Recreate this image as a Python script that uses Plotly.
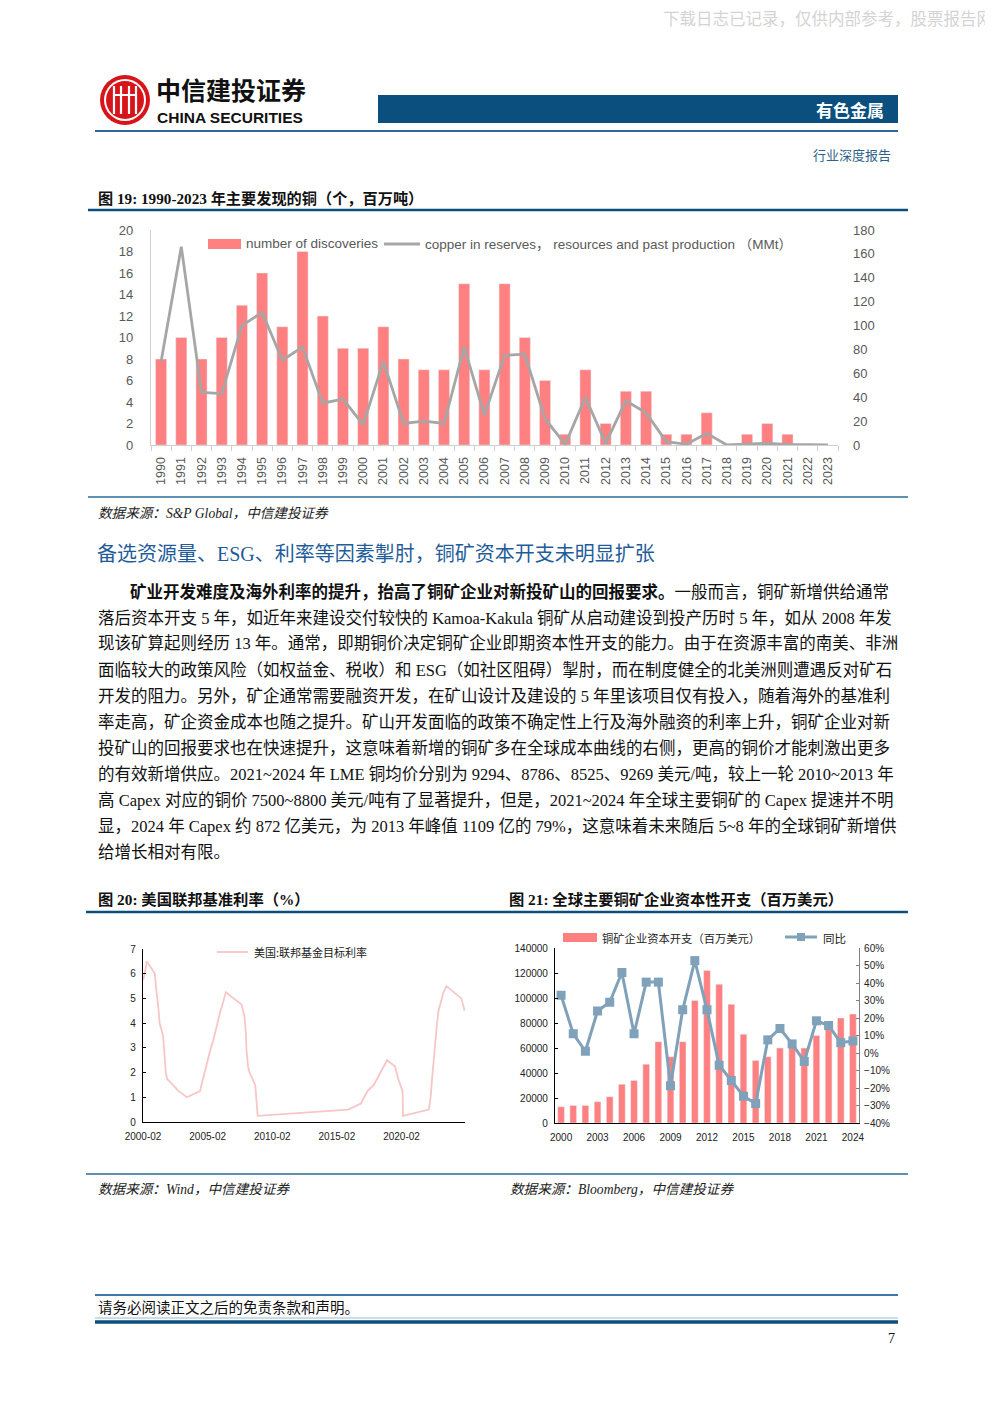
import plotly.graph_objects as go

W, H = 993, 1404
OFF = 8  # the page body adds an 8px margin; compensate so the figure lands at reference pixels
def px(x): return (x - OFF) / W
def py(y): return 1 - (y - OFF) / H

# ---------------- data ----------------
# Fig 19
years19 = [str(y) for y in range(1990, 2024)]
discoveries = [8, 10, 8, 10, 13, 16, 11, 18, 12, 9,
               9, 11, 8, 7, 7, 15, 7, 15, 10, 6,
               1, 7, 2, 5, 5, 1, 1, 3, 0, 1,
               2, 1, 0, 0]
copper_mmt = [70, 166, 44, 43, 100, 111, 71, 82, 35, 38.5,
              17, 70, 18, 20, 18, 82, 25, 75, 76, 22,
              0.5, 40, 1.4, 37, 27, 2.8, 0.6, 9.8, 0, 0.5,
              1.4, 0.5, 0, 0]

# Fig 20 (Fed target rate, change points)
fed_dates = ["2000-02-02", "2000-03-21", "2000-05-16", "2001-01-03", "2001-01-31", "2001-03-20",
             "2001-04-18", "2001-05-15", "2001-06-27", "2001-08-21", "2001-09-17", "2001-10-02",
             "2001-11-06", "2001-12-11", "2002-11-06", "2003-06-25", "2004-06-30", "2004-08-10",
             "2004-09-21", "2004-11-10", "2004-12-14", "2005-02-02", "2005-03-22", "2005-05-03",
             "2005-06-30", "2005-08-09", "2005-09-20", "2005-11-01", "2005-12-13", "2006-01-31",
             "2006-03-28", "2006-05-10", "2006-06-29", "2007-09-18", "2007-10-31", "2007-12-11",
             "2008-01-22", "2008-01-30", "2008-03-18", "2008-04-30", "2008-10-08", "2008-10-29",
             "2008-12-16", "2015-12-16", "2016-12-14", "2017-03-15", "2017-06-14", "2017-12-13",
             "2018-03-21", "2018-06-13", "2018-09-26", "2018-12-19", "2019-07-31", "2019-09-18",
             "2019-10-30", "2020-03-03", "2020-03-15", "2022-03-16", "2022-05-04", "2022-06-15",
             "2022-07-27", "2022-09-21", "2022-11-02", "2022-12-14", "2023-02-01", "2023-03-22",
             "2023-05-03", "2023-07-26", "2024-09-18", "2024-11-07", "2024-12-18"]
fed_rate = [5.75, 6.00, 6.50, 6.00, 5.50, 5.00,
            4.50, 4.00, 3.75, 3.50, 3.00, 2.50,
            2.00, 1.75, 1.25, 1.00, 1.25, 1.50,
            1.75, 2.00, 2.25, 2.50, 2.75, 3.00,
            3.25, 3.50, 3.75, 4.00, 4.25, 4.50,
            4.75, 5.00, 5.25, 4.75, 4.50, 4.25,
            3.50, 3.00, 2.25, 2.00, 1.50, 1.00,
            0.25, 0.50, 0.75, 1.00, 1.25, 1.50,
            1.75, 2.00, 2.25, 2.50, 2.25, 2.00,
            1.75, 1.25, 0.25, 0.50, 1.00, 1.75,
            2.50, 3.25, 4.00, 4.50, 4.75, 5.00,
            5.25, 5.50, 5.00, 4.75, 4.50]

# Fig 21
years21 = [str(y) for y in range(2000, 2025)]
capex = [13000, 14000, 14000, 17000, 21000, 31000, 34000, 47000, 65000, 53000,
         65000, 98000, 122000, 111000, 95000, 71000, 50000, 53000, 60000, 63000,
         60000, 70000, 81000, 84000, 87200]
yoy_pct = [33, 11, 1, 24, 29, 46, 11, 40.5, 40.5, -18.7,
           24.7, 52.8, 24.7, -7, -15.7, -24.7, -28.9, 7.5, 14, 5.2,
           -4.8, 18.4, 15.7, 5.9, 6.9]
yoy = [v / 100 for v in yoy_pct]
x21_ticks = ["2000", "2003", "2006", "2009", "2012", "2015", "2018", "2021", "2024"]

# ---------------- colors / fonts ----------------
BAR = "#FF8080"
GRAY_LINE = "#A6A6A6"
PINK = "#F7C6C6"
STEEL = "#7FA1BA"
NAVY = "#0B4F7E"
SANS = "Liberation Sans, Noto Sans CJK SC, sans-serif"
CJK = "Noto Sans CJK SC, sans-serif"
SERIF = "Liberation Serif, Noto Sans CJK SC, serif"

fig = go.Figure()

# Fig 19 traces
fig.add_trace(go.Bar(x=years19, y=discoveries, marker_color=BAR, width=0.55,
                     xaxis="x", yaxis="y", showlegend=False, name="number of discoveries"))
fig.add_trace(go.Scatter(x=years19, y=copper_mmt, mode="lines", line=dict(color=GRAY_LINE, width=2.8),
                         xaxis="x", yaxis="y2", showlegend=False,
                         name="copper in reserves, resources and past production (MMt)"))
# Fig 20
fig.add_trace(go.Scatter(x=fed_dates, y=fed_rate, mode="lines", line=dict(color=PINK, width=1.8),
                         xaxis="x2", yaxis="y3", showlegend=False, name="美国:联邦基金目标利率"))
# Fig 21
fig.add_trace(go.Bar(x=years21, y=capex, marker_color=BAR, width=0.55,
                     xaxis="x3", yaxis="y4", showlegend=False, name="铜矿企业资本开支（百万美元）"))
fig.add_trace(go.Scatter(x=years21, y=yoy, mode="lines+markers",
                         line=dict(color=STEEL, width=3),
                         marker=dict(symbol="square", size=9, color=STEEL),
                         xaxis="x3", yaxis="y5", showlegend=False, name="同比"))

tick19 = dict(size=13, color="#595959", family=SANS)
fig.update_layout(
    width=W, height=H, margin=dict(l=0, r=0, t=0, b=0, autoexpand=False),
    paper_bgcolor="white", plot_bgcolor="rgba(0,0,0,0)",
    showlegend=False,
    xaxis=dict(domain=[px(151), px(838)], anchor="y", type="category", range=[-0.5, 33.5],
               tickangle=-90, tickfont=dict(size=12.5, color="#595959", family=SANS),
               showline=True, linecolor="#D0D0D0", linewidth=1.2,
               ticks="outside", ticklen=5, tickcolor="#D0D0D0", tickson="boundaries",
               ticklabelstandoff=6, showgrid=False, zeroline=False, automargin=False),
    yaxis=dict(domain=[py(445), py(230)], range=[0, 20], dtick=2, tickfont=tick19,
               showline=True, linecolor="#D0D0D0", linewidth=1.2, showgrid=False, zeroline=False,
               ticks="", ticklabelstandoff=14, automargin=False),
    yaxis2=dict(overlaying="y", anchor="x", side="right", range=[0, 180], dtick=20, tickfont=tick19,
                showline=False, showgrid=False, zeroline=False, ticks="", ticklabelstandoff=14,
                automargin=False),
    xaxis2=dict(domain=[px(143), px(465)], anchor="y3", type="date",
                range=["2000-02-01", "2024-12-31"], tick0="2000-02-01", dtick="M60",
                tickformat="%Y-%m", tickfont=dict(size=10, color="#222", family=SANS),
                showline=True, linecolor="black", linewidth=1.2, ticks="", showgrid=False, zeroline=False,
                ticklabelstandoff=5, automargin=False),
    yaxis3=dict(domain=[py(1122), py(949)], anchor="x2", range=[0, 7], dtick=1,
                tickfont=dict(size=10, color="#222", family=SANS),
                showline=True, linecolor="black", linewidth=1.2, ticks="inside", ticklen=3,
                tickcolor="black", showgrid=False, zeroline=False, ticklabelstandoff=4, automargin=False),
    xaxis3=dict(domain=[px(555), px(859)], anchor="y4", type="category", range=[-0.5, 24.5],
                tickmode="array", tickvals=x21_ticks, ticktext=x21_ticks,
                tickfont=dict(size=10, color="#222", family=SANS),
                showline=True, linecolor="black", linewidth=1.2, ticks="", showgrid=False, zeroline=False,
                ticklabelstandoff=5, automargin=False),
    yaxis4=dict(domain=[py(1123), py(948)], anchor="x3", range=[0, 140000], dtick=20000,
                tickformat="d", tickfont=dict(size=10, color="#222", family=SANS),
                showline=True, linecolor="black", linewidth=1.2, ticks="inside", ticklen=3,
                tickcolor="black", showgrid=False, zeroline=False, ticklabelstandoff=4, automargin=False),
    yaxis5=dict(overlaying="y4", anchor="x3", side="right", range=[-0.4, 0.6], dtick=0.1,
                tickformat=".0%", tickfont=dict(size=10, color="#222", family=SANS),
                showline=True, linecolor="#808080", linewidth=1.2, ticks="inside", ticklen=3,
                tickcolor="#808080", showgrid=False, zeroline=False, ticklabelstandoff=2, automargin=False),
)

shapes = []
annos = []

def line(x0, y0, x1, y1, color, w):
    shapes.append(dict(type="line", xref="paper", yref="paper", x0=px(x0), y0=py(y0),
                       x1=px(x1), y1=py(y1), line=dict(color=color, width=w)))

def rect(x0, y0, x1, y1, color):
    shapes.append(dict(type="rect", xref="paper", yref="paper", x0=px(x0), y0=py(y0),
                       x1=px(x1), y1=py(y1), fillcolor=color, line=dict(width=0)))

def circle(cx, cy, r, color):
    shapes.append(dict(type="circle", xref="paper", yref="paper", x0=px(cx - r), y0=py(cy + r),
                       x1=px(cx + r), y1=py(cy - r), fillcolor=color, line=dict(width=0)))

def txt(x, y, s, size, color="black", family=CJK, xanchor="left", yanchor="middle"):
    annos.append(dict(x=px(x), y=py(y), xref="paper", yref="paper", text=s, showarrow=False,
                      xanchor=xanchor, yanchor=yanchor, font=dict(size=size, color=color, family=family)))

# ---------- header ----------
txt(661, 18, "下载日志已记录，仅供内部参考，股票报告网", 16.5, "#D4D4D4")
# logo
circle(125, 100, 25, "#D8141B")
circle(125, 100, 21, "white")
circle(125, 100, 19, "#D8141B")
for xx in [114, 121, 129, 136]:
    line(xx, 86, xx, 114, "white", 2.2)
line(113, 95, 137, 95, "white", 2)
txt(154, 89, "<b>中信建投证券</b>", 25, "#111")
txt(155, 117, "<b>CHINA SECURITIES</b>", 15.5, "#111", "Liberation Sans, sans-serif")
rect(378, 95, 898, 123, NAVY)
txt(886, 109, "<b>有色金属</b>", 17, "white", CJK, "right")
line(95, 131, 898, 131, "#2B6A9B", 2.2)
txt(893, 155, "行业深度报告", 13, "#2F5F8A", CJK, "right")

# ---------- Fig 19 ----------
txt(96, 198, "<b>图 19: 1990-2023 年主要发现的铜（个，百万吨）</b>", 15.2, "#111", SERIF)
line(88, 210, 908, 210, NAVY, 2.5)
rect(208, 239, 241, 249, BAR)
txt(244, 243.5, "number of discoveries", 13.5, "#595959", SANS)
line(384, 244, 420, 244, GRAY_LINE, 2.8)
txt(423, 244.5, "copper in reserves， resources and past production （MMt）", 13.5, "#595959", SANS)
line(88, 497, 908, 497, "#2B6A9B", 1.3)
txt(96, 513, "<i>数据来源：S&P Global，中信建投证券</i>", 13.6, "#222", SERIF)

# ---------- section text ----------
txt(95, 554, "备选资源量、ESG、利率等因素掣肘，铜矿资本开支未明显扩张", 20, "#1F5C99", SERIF)
para = [
    (128, "<b>矿业开发难度及海外利率的提升，抬高了铜矿企业对新投矿山的回报要求。</b>一般而言，铜矿新增供给通常"),
    (96, "落后资本开支 5 年，如近年来建设交付较快的 Kamoa-Kakula 铜矿从启动建设到投产历时 5 年，如从 2008 年发"),
    (96, "现该矿算起则经历 13 年。通常，即期铜价决定铜矿企业即期资本性开支的能力。由于在资源丰富的南美、非洲"),
    (96, "面临较大的政策风险（如权益金、税收）和 ESG（如社区阻碍）掣肘，而在制度健全的北美洲则遭遇反对矿石"),
    (96, "开发的阻力。另外，矿企通常需要融资开发，在矿山设计及建设的 5 年里该项目仅有投入，随着海外的基准利"),
    (96, "率走高，矿企资金成本也随之提升。矿山开发面临的政策不确定性上行及海外融资的利率上升，铜矿企业对新"),
    (96, "投矿山的回报要求也在快速提升，这意味着新增的铜矿多在全球成本曲线的右侧，更高的铜价才能刺激出更多"),
    (96, "的有效新增供应。2021~2024 年 LME 铜均价分别为 9294、8786、8525、9269 美元/吨，较上一轮 2010~2013 年"),
    (96, "高 Capex 对应的铜价 7500~8800 美元/吨有了显著提升，但是，2021~2024 年全球主要铜矿的 Capex 提速并不明"),
    (96, "显，2024 年 Capex 约 872 亿美元，为 2013 年峰值 1109 亿的 79%，这意味着未来随后 5~8 年的全球铜矿新增供"),
    (96, "给增长相对有限。"),
]
for i, (x0, s) in enumerate(para):
    txt(x0, 592 + i * 26, s, 16.5, "#111", SERIF)

# ---------- Fig 20 / 21 ----------
txt(96, 899, "<b>图 20: 美国联邦基准利率（%）</b>", 15.3, "#111", SERIF)
txt(507, 899, "<b>图 21: 全球主要铜矿企业资本性开支（百万美元）</b>", 15.3, "#111", SERIF)
line(86, 912, 908, 912, NAVY, 2.5)
# fig 20 legend
line(217, 952, 248, 952, PINK, 1.8)
txt(252, 952, "美国:联邦基金目标利率", 11, "#222", CJK)
# fig 21 legend
rect(563, 933, 597, 942, BAR)
txt(600, 937.5, "铜矿企业资本开支（百万美元）", 11.3, "#222", CJK)
line(785, 937, 817, 937, STEEL, 3)
rect(797, 933, 805, 941, STEEL)
txt(821, 937.5, "同比", 11.5, "#222", CJK)
line(86, 1174, 908, 1174, "#2B6A9B", 1.3)
txt(96, 1189, "<i>数据来源：Wind，中信建投证券</i>", 13.6, "#222", SERIF)
txt(508, 1189, "<i>数据来源：Bloomberg，中信建投证券</i>", 13.6, "#222", SERIF)

# ---------- footer ----------
line(95, 1295, 898, 1295, "#3C78A8", 2)
txt(96, 1306, "请务必阅读正文之后的免责条款和声明。", 14.5, "#111", CJK)
line(95, 1318, 898, 1318, "#9DB9D3", 1)
line(95, 1322, 898, 1322, NAVY, 3.5)
txt(897, 1338, "7", 14, "#111", SERIF, "right")

fig.update_layout(shapes=shapes, annotations=annos)
fig.write_html("out.html")
